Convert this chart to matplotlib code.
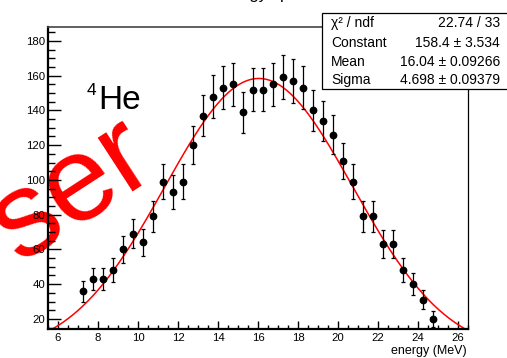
import numpy as np
import matplotlib
matplotlib.use("Agg")
import matplotlib.pyplot as plt
from matplotlib.patches import Rectangle
from matplotlib.ticker import MultipleLocator

plt.rcParams['font.family'] = ['Liberation Sans', 'DejaVu Sans']

# Histogram contents (bin width 0.5 MeV)
bin_centers = [7.25, 7.75, 8.25, 8.75, 9.25, 9.75, 10.25, 10.75, 11.25, 11.75,
               12.25, 12.75, 13.25, 13.75, 14.25, 14.75, 15.25, 15.75, 16.25, 16.75,
               17.25, 17.75, 18.25, 18.75, 19.25, 19.75, 20.25, 20.75, 21.25, 21.75,
               22.25, 22.75, 23.25, 23.75, 24.25, 24.75]
counts = [36, 43, 43, 48, 60, 69, 64, 79, 99, 93,
          99, 120, 137, 148, 153, 155, 139, 152, 152, 155,
          159, 157, 153, 140, 134, 126, 111, 99, 79, 79,
          63, 63, 48, 40, 31, 20]

# Gaussian fit result
fit_constant = 158.4
fit_mean = 16.04
fit_sigma = 4.698

stat_labels = ["\u03c7\u00b2 / ndf", "Constant", "Mean", "Sigma"]
stat_values = ["22.74 / 33", "158.4 \u00b1 3.534", "16.04 \u00b1 0.09266", "4.698 \u00b1 0.09379"]

x_range = (5.5, 26.5)
y_range = (14.2, 188.3)

W, H = 507, 358
fig = plt.figure(figsize=(W / 100, H / 100), dpi=100)
fig.patch.set_facecolor('white')


def fx(px):
    return px / W


def fy(py):
    return 1 - py / H


ax = fig.add_axes([fx(48), fy(329), fx(468) - fx(48), fy(26.5) - fy(329)])
ax.patch.set_alpha(0)
ax.set_xlim(*x_range)
ax.set_ylim(*y_range)

# Gaussian fit curve over the full histogram range
xs = np.linspace(x_range[0], x_range[1], 500)
ys = fit_constant * np.exp(-0.5 * ((xs - fit_mean) / fit_sigma) ** 2)
ax.plot(xs, ys, color='red', lw=1.1, zorder=2)

# Data points with Poisson errors
errs = np.sqrt(np.array(counts, dtype=float))
ax.errorbar(bin_centers, counts, yerr=errs, fmt='o', color='black', ms=4.6,
            elinewidth=0.9, capsize=1.5, capthick=0.9, zorder=3)

# Axes styling
ax.xaxis.set_major_locator(MultipleLocator(2))
ax.xaxis.set_minor_locator(MultipleLocator(0.5))
ax.yaxis.set_major_locator(MultipleLocator(20))
ax.yaxis.set_minor_locator(MultipleLocator(5))
ax.tick_params(axis='x', which='major', direction='in', length=6, width=1.0,
               labelsize=8.2, pad=3, top=False)
ax.tick_params(axis='x', which='minor', direction='in', length=3.2, width=1.0, top=False)
ax.tick_params(axis='y', which='major', direction='in', length=9.4, width=1.0,
               labelsize=8.2, pad=2, right=False)
ax.tick_params(axis='y', which='minor', direction='in', length=5, width=1.0, right=False)
for side in ('left', 'bottom'):
    ax.spines[side].set_linewidth(1.6)
ax.spines['top'].set_linewidth(1.2)
ax.spines['top'].set_color('#444444')
ax.spines['right'].set_linewidth(0.9)

# Axis title
fig.text(fx(467), fy(354), "energy (MeV)", ha='right', va='baseline', fontsize=9)

# Histogram title (runs off the top edge)
fig.text(fx(216), fy(-1), "energy spectrum", ha='left', va='baseline', fontsize=12)

# Isotope label
fig.text(fx(98), fy(109), "He", ha='left', va='baseline', fontsize=24)
fig.text(fx(87), fy(95), "4", ha='left', va='baseline', fontsize=12.5)

# Rotated watermark
fig.text(fx(19), fy(263), "ser", color='red', fontsize=87, rotation=33,
         rotation_mode='anchor', ha='left', va='baseline', zorder=-1)

# Statistics box
box = Rectangle((fx(321.7), fy(89.3)), 1.05 - fx(321.7), fy(13.3) - fy(89.3),
                transform=fig.transFigure, facecolor='white', edgecolor='black',
                lw=0.9, zorder=10)
fig.add_artist(box)
row_y = [23, 43, 62, 80]
for lab, val, yy in zip(stat_labels, stat_values, row_y):
    fig.text(fx(331), fy(yy), lab, ha='left', va='center', fontsize=10, zorder=11)
    fig.text(fx(500), fy(yy), val, ha='right', va='center', fontsize=10, zorder=11)

fig.savefig("out.png", dpi=100)
